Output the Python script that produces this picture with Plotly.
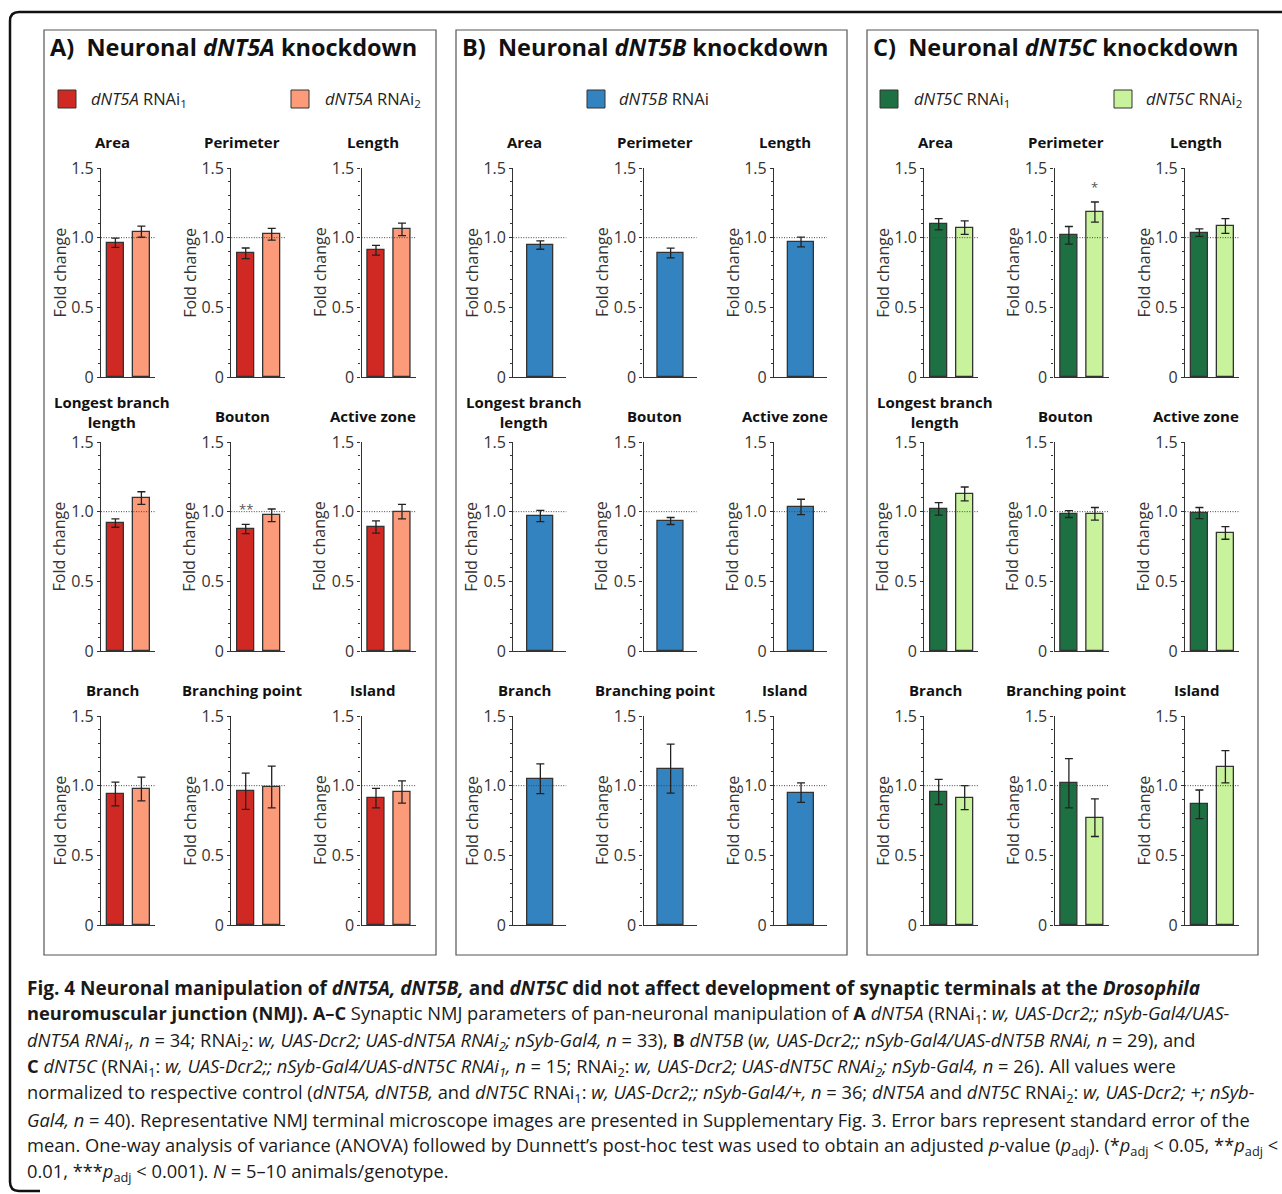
import plotly.graph_objects as go

W, H = 1282, 1194

# ---------------- data ----------------
PARAMS = ["Area", "Perimeter", "Length", "Longest branch<br>length", "Bouton",
          "Active zone", "Branch", "Branching point", "Island"]

A_RNAI1 = [0.964, 0.888, 0.910, 0.918, 0.876, 0.890, 0.940, 0.960, 0.910]
A_RNAI1_SEM = [0.033, 0.038, 0.035, 0.030, 0.033, 0.044, 0.085, 0.130, 0.070]
A_RNAI2 = [1.043, 1.024, 1.060, 1.098, 0.974, 1.000, 0.976, 0.990, 0.955]
A_RNAI2_SEM = [0.040, 0.042, 0.045, 0.045, 0.045, 0.052, 0.085, 0.150, 0.080]

B_RNAI = [0.947, 0.890, 0.969, 0.969, 0.933, 1.034, 1.050, 1.122, 0.950]
B_RNAI_SEM = [0.030, 0.035, 0.035, 0.040, 0.025, 0.055, 0.107, 0.176, 0.070]

C_RNAI1 = [1.096, 1.017, 1.036, 1.020, 0.983, 0.990, 0.955, 1.017, 0.866]
C_RNAI1_SEM = [0.040, 0.063, 0.027, 0.045, 0.025, 0.040, 0.090, 0.177, 0.103]
C_RNAI2 = [1.072, 1.184, 1.084, 1.127, 0.985, 0.847, 0.914, 0.770, 1.136]
C_RNAI2_SEM = [0.049, 0.072, 0.053, 0.050, 0.045, 0.045, 0.086, 0.135, 0.116]

# significance marks: (panel, parameter index, series index, text)
SIG = [("A", 4, 0, "**"), ("C", 1, 1, "*")]

Y_TICKS = [0, 0.5, 1.0, 1.5]
Y_TICKTEXT = ["0", "0.5", "1.0", "1.5"]
Y_MINOR = [0.1, 0.2, 0.3, 0.4, 0.6, 0.7, 0.8, 0.9, 1.1, 1.2, 1.3, 1.4]
REF_LEVEL = 1.0

PANELS = [
    dict(key="A", title="<b>A)\u00a0\u00a0Neuronal <i>dNT5A</i> knockdown</b>",
         series=[("<i>dNT5A</i> RNAi<sub>1</sub>", A_RNAI1, A_RNAI1_SEM, "#D02822"),
                 ("<i>dNT5A</i> RNAi<sub>2</sub>", A_RNAI2, A_RNAI2_SEM, "#FB9B7A")]),
    dict(key="B", title="<b>B)\u00a0\u00a0Neuronal <i>dNT5B</i> knockdown</b>",
         series=[("<i>dNT5B</i> RNAi", B_RNAI, B_RNAI_SEM, "#3483C1")]),
    dict(key="C", title="<b>C)\u00a0\u00a0Neuronal <i>dNT5C</i> knockdown</b>",
         series=[("<i>dNT5C</i> RNAi<sub>1</sub>", C_RNAI1, C_RNAI1_SEM, "#1C7042"),
                 ("<i>dNT5C</i> RNAi<sub>2</sub>", C_RNAI2, C_RNAI2_SEM, "#C8F29B")]),
]

CAPTION = [
    "<b>Fig. 4 Neuronal manipulation of <i>dNT5A, dNT5B,</i> and <i>dNT5C</i> did not affect development of synaptic terminals at the <i>Drosophila</i></b>",
    "<b>neuromuscular junction (NMJ). A–C</b> Synaptic NMJ parameters of pan-neuronal manipulation of <b>A</b> <i>dNT5A</i> (RNAi<sub>1</sub>: <i>w, UAS-Dcr2;; nSyb-Gal4/UAS-</i>",
    "<i>dNT5A RNAi<sub>1</sub>, n</i> = 34; RNAi<sub>2</sub>: <i>w, UAS-Dcr2; UAS-dNT5A RNAi<sub>2</sub>; nSyb-Gal4, n</i> = 33), <b>B</b> <i>dNT5B</i> (<i>w, UAS-Dcr2;; nSyb-Gal4/UAS-dNT5B RNAi, n</i> = 29), and",
    "<b>C</b> <i>dNT5C</i> (RNAi<sub>1</sub>: <i>w, UAS-Dcr2;; nSyb-Gal4/UAS-dNT5C RNAi<sub>1</sub>, n</i> = 15; RNAi<sub>2</sub>: <i>w, UAS-Dcr2; UAS-dNT5C RNAi<sub>2</sub>; nSyb-Gal4, n</i> = 26). All values were",
    "normalized to respective control (<i>dNT5A, dNT5B,</i> and <i>dNT5C</i> RNAi<sub>1</sub>: <i>w, UAS-Dcr2;; nSyb-Gal4/+, n</i> = 36; <i>dNT5A</i> and <i>dNT5C</i> RNAi<sub>2</sub>: <i>w, UAS-Dcr2; +; nSyb-</i>",
    "<i>Gal4, n</i> = 40). Representative NMJ terminal microscope images are presented in Supplementary Fig. 3. Error bars represent standard error of the",
    "mean. One-way analysis of variance (ANOVA) followed by Dunnett’s post-hoc test was used to obtain an adjusted <i>p</i>-value (<i>p</i><sub>adj</sub>). (*<i>p</i><sub>adj</sub> &lt; 0.05, **<i>p</i><sub>adj</sub> &lt;",
    "0.01, ***<i>p</i><sub>adj</sub> &lt; 0.001). <i>N</i> = 5–10 animals/genotype.",
]

# ---------------- layout geometry (pixels) ----------------
FONT = "Open Sans"
DARK = "#333333"
AX_LEFT = [[101.0, 231.3, 361.6], [513.3, 643.6, 774.0], [924.3, 1054.5, 1185.0]]
ROWS = [(168.0, 377.0), (442.0, 651.0), (716.0, 925.0)]
PANEL_BOX = [(44, 436), (456, 847), (867, 1258)]
PANEL_TOP, PANEL_BOTTOM = 30, 955
LEGEND_POS = [[(58, 89), (291, 323)], [(587, 617)], [(880, 912), (1114, 1144)]]


def px(x):
    return x / W


def py(y):
    return 1 - y / H


fig = go.Figure()
layout = {}
shapes = []
annotations = []

n = 0
for p, panel in enumerate(PANELS):
    series = panel["series"]
    nser = len(series)
    if nser == 2:
        wpx, xr, bw = 54.0, [-0.554, 1.523], 0.665
    else:
        wpx, xr, bw = 53.0, [-0.51, 0.49], 0.49
    for k in range(9):
        n += 1
        r, c = divmod(k, 3)
        left = AX_LEFT[p][c]
        top, bot = ROWS[r]
        xa = "x" if n == 1 else f"x{n}"
        ya = "y" if n == 1 else f"y{n}"
        for s, (name, vals, sems, col) in enumerate(series):
            fig.add_trace(go.Bar(
                x=[s], y=[vals[k]], width=bw, name=name, showlegend=False,
                marker=dict(color=col, line=dict(color=DARK, width=1.3)),
                error_y=dict(type="data", array=[sems[k]], color="#222222",
                             thickness=1.3, width=4),
                xaxis=xa, yaxis=ya,
            ))
        layout["xaxis" if n == 1 else f"xaxis{n}"] = dict(
            domain=[px(left), px(left + wpx)], range=xr, anchor=ya,
            automargin=False,
            showline=True, linecolor=DARK, linewidth=1.3, showticklabels=False,
            ticks="", showgrid=False, zeroline=False, fixedrange=True)
        layout["yaxis" if n == 1 else f"yaxis{n}"] = dict(
            domain=[py(bot), py(top)], range=[0, 1.5], anchor=xa,
            automargin=False,
            showline=True, linecolor=DARK, linewidth=1.3,
            tickmode="array", tickvals=Y_TICKS, ticktext=Y_TICKTEXT,
            ticks="outside", ticklen=3, tickwidth=1, tickcolor=DARK,
            tickfont=dict(family=FONT, size=16, color=DARK),
            minor=dict(tickvals=Y_MINOR, ticks="outside", ticklen=2,
                       tickwidth=1, tickcolor=DARK, showgrid=False),
            showgrid=False, zeroline=False, fixedrange=True)
        # reference line at 1.0
        shapes.append(dict(type="line", xref=f"{xa} domain", yref=ya,
                           x0=0, x1=1, y0=REF_LEVEL, y1=REF_LEVEL,
                           line=dict(color="#444444", width=1, dash="1px,1.5px")))
        # y axis title
        annotations.append(dict(text="Fold change", xref="paper", yref="paper",
                                x=px(left - 42), y=py((top + bot) / 2),
                                textangle=-90, showarrow=False,
                                xanchor="center", yanchor="middle",
                                font=dict(family=FONT, size=16, color=DARK)))
        # subplot title
        title = PARAMS[k]
        ty = top - (30 if "<br>" in title else 26)
        annotations.append(dict(text=f"<b>{title}</b>", xref="paper", yref="paper",
                                x=px(left + 11), y=py(ty), showarrow=False,
                                xanchor="center", yanchor="middle",
                                font=dict(family=FONT, size=15, color="#111111")))
        for (pk, pi, si, txt) in SIG:
            if pk == panel["key"] and pi == k:
                vals, sems = series[si][1], series[si][2]
                annotations.append(dict(text=txt, xref=xa, yref=ya, x=si,
                                        y=vals[pi] + sems[pi] + 0.11,
                                        showarrow=False, yanchor="middle",
                                        font=dict(family=FONT, size=13, color="#555555")))

    # panel box
    x0, x1 = PANEL_BOX[p]
    shapes.append(dict(type="rect", xref="paper", yref="paper",
                       x0=px(x0), x1=px(x1), y0=py(PANEL_BOTTOM), y1=py(PANEL_TOP),
                       line=dict(color="#555555", width=1.2)))
    # panel title
    annotations.append(dict(text=panel["title"], xref="paper", yref="paper",
                            x=px(x0 + 4), y=py(47), xanchor="left", yanchor="middle",
                            showarrow=False,
                            font=dict(family=FONT, size=23.5, color="#111111")))
    # legend (swatches + labels)
    for s, (name, vals, sems, col) in enumerate(series):
        sx, tx = LEGEND_POS[p][s]
        shapes.append(dict(type="rect", xref="paper", yref="paper",
                           x0=px(sx), x1=px(sx + 18), y0=py(108), y1=py(90),
                           fillcolor=col, line=dict(color=DARK, width=1)))
        annotations.append(dict(text=name, xref="paper", yref="paper",
                                x=px(tx), y=py(99), xanchor="left", yanchor="middle",
                                showarrow=False,
                                font=dict(family=FONT, size=16.5, color="#222222")))

# outer frame (rounded left corners)
frame = (f"M {px(1282)},{py(12)} L {px(19)},{py(12)} "
         f"Q {px(10)},{py(12)} {px(10)},{py(21)} "
         f"L {px(10)},{py(1182)} Q {px(10)},{py(1191)} {px(19)},{py(1191)} "
         f"L {px(40)},{py(1191)}")
shapes.append(dict(type="path", xref="paper", yref="paper", path=frame,
                   line=dict(color="#111111", width=2.5)))

# caption
for i, line in enumerate(CAPTION):
    annotations.append(dict(text=line, xref="paper", yref="paper",
                            x=px(25), y=py(988 + i * 26.3), xanchor="left",
                            yanchor="middle", showarrow=False,
                            font=dict(family=FONT, size=19.0 if i == 0 else 18.3,
                                      color="#1a1a1a")))

fig.update_layout(
    width=W, height=H, margin=dict(l=0, r=0, t=0, b=0, pad=0, autoexpand=False),
    paper_bgcolor="white", plot_bgcolor="white",
    showlegend=False, bargap=0, shapes=shapes, annotations=annotations,
    font=dict(family=FONT, color=DARK),
    **layout,
)

fig.write_html("out.html",
               config={"displayModeBar": False, "staticPlot": False},
               post_script="document.body.style.margin='0px';"
                           "document.body.style.overflow='hidden';")
